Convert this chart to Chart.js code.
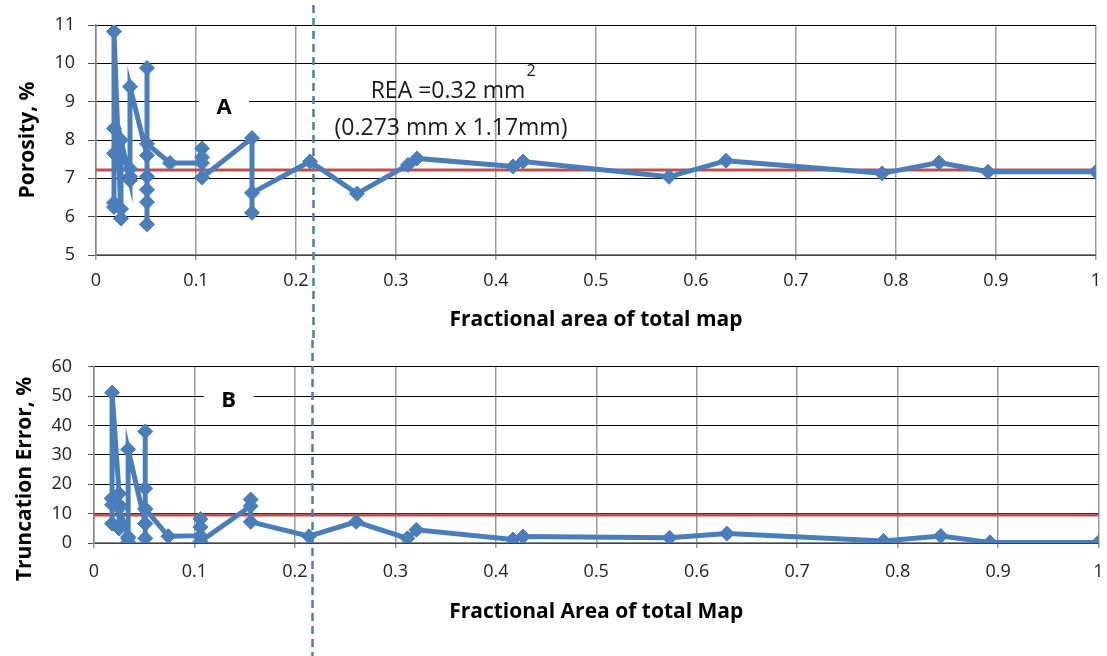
<!DOCTYPE html>
<html>
<head>
<meta charset="utf-8">
<title>Porosity and truncation error vs fractional area</title>
<script src="https://cdn.jsdelivr.net/npm/chart.js@4.4.1/dist/chart.umd.min.js"></script>
<style>
    html, body { margin: 0; padding: 0; background: #fff; }
    #wrap { position: relative; width: 1107px; height: 656px; overflow: hidden; }
    canvas { position: absolute; left: 0; }
    #porosityChart { top: 0; }
    #truncChart { top: 340px; }
</style>
</head>
<body>
<div id="wrap">
    <canvas id="porosityChart" width="1107" height="340"></canvas>
    <canvas id="truncChart" width="1107" height="316"></canvas>
</div>
<script>
// fractional area of the total map for each sub-sample (same order in both panels)
const fracArea = [
    1.000, 0.892, 0.843, 0.786, 0.630, 0.573, 0.427, 0.417, 0.321, 0.312,
    0.261, 0.214, 0.156, 0.156, 0.156, 0.106, 0.106, 0.106, 0.106, 0.074,
    0.051, 0.051, 0.051, 0.051, 0.051, 0.051, 0.051, 0.034, 0.034, 0.034,
    0.034, 0.025, 0.025, 0.025, 0.025, 0.018, 0.018, 0.018, 0.018, 0.018
];

// panel A: porosity, %
const porosity = [
    7.17, 7.17, 7.41, 7.13, 7.46, 7.04, 7.44, 7.31, 7.52, 7.35,
    6.60, 7.44, 6.62, 6.10, 8.05, 7.02, 7.78, 7.55, 7.40, 7.40,
    7.90, 5.80, 9.88, 7.05, 6.70, 6.38, 7.60, 9.39, 7.05, 7.25,
    6.95, 8.00, 7.50, 6.20, 5.95, 10.83, 8.30, 7.65, 6.36, 6.25
];

// panel B: truncation error, %
const truncError = [
    0.2, 0.2, 2.4, 0.7, 3.2, 1.8, 2.2, 1.2, 4.5, 1.6,
    7.2, 2.3, 7.2, 14.8, 12.6, 0.5, 8.2, 5.4, 2.5, 2.3,
    11.6, 18.6, 38.0, 1.6, 6.6, 11.6, 6.6, 31.9, 1.6, 0.3,
    2.1, 11.9, 4.9, 13.0, 16.8, 51.2, 15.3, 6.6, 13.0, 15.0
];

const porosityRef = 7.22;   // red reference line, panel A
const truncLimit = 9.5;     // red limit line, panel B
const reaFraction = 0.217;  // dashed REA marker

const BLUE = '#4A7EBB';
const RED = '#C0504D';
const FONT = "'Open Sans', sans-serif";

Chart.defaults.font.family = FONT;
Chart.defaults.color = '#222';
Chart.defaults.animation = false;

// extra drawing: letter tag, dashed REA line, REA note, side title
const extras = {
    id: 'extras',
    beforeDatasetsDraw(chart, args, o) {
        if (!o.tag) return;
        const { ctx } = chart;
        const px = chart.scales.x.getPixelForValue(o.tag.x);
        const py = chart.scales.y.getPixelForValue(o.tag.y);
        ctx.save();
        ctx.fillStyle = '#fff';
        ctx.fillRect(px - 25, py - 15, 50, 30);
        ctx.fillStyle = '#000';
        ctx.font = `bold 22px ${FONT}`;
        ctx.textAlign = 'center';
        ctx.textBaseline = 'middle';
        ctx.fillText(o.tag.text, px, py);
        ctx.restore();
    },
    afterDraw(chart, args, o) {
        const { ctx } = chart;
        const xs = chart.scales.x, ys = chart.scales.y;

        // dashed vertical REA line
        const lx = Math.round(xs.getPixelForValue(o.reaX)) + 0.5;
        ctx.save();
        ctx.strokeStyle = BLUE;
        ctx.lineWidth = 2.5;
        ctx.setLineDash([8, 5]);
        ctx.beginPath();
        ctx.moveTo(lx, o.lineTop);
        ctx.lineTo(lx, chart.height);
        ctx.stroke();
        ctx.restore();

        if (o.note) {
            ctx.save();
            ctx.fillStyle = '#1a1a1a';
            ctx.textAlign = 'center';
            ctx.textBaseline = 'middle';
            o.note.forEach(n => {
                ctx.font = `${n.size}px ${FONT}`;
                ctx.fillText(n.text, xs.getPixelForValue(n.x), ys.getPixelForValue(n.y));
            });
            ctx.restore();
        }

        if (o.sideTitle) {
            ctx.save();
            ctx.translate(o.sideTitle.x, o.sideTitle.y);
            ctx.rotate(-Math.PI / 2);
            ctx.fillStyle = '#000';
            ctx.font = `bold 21px ${FONT}`;
            ctx.textAlign = 'center';
            ctx.textBaseline = 'middle';
            ctx.fillText(o.sideTitle.text, 0, 0);
            ctx.restore();
        }
    }
};

function xAxis(title, boxHeight, tickPad, titlePad) {
    return {
        type: 'linear',
        min: 0,
        max: 1,
        afterFit: s => {
            s.height = boxHeight;
            s.paddingLeft = 0;
            s.paddingRight = 0;
        },
        ticks: {
            stepSize: 0.1,
            padding: tickPad,
            font: { size: 18 },
            callback: v => String(+v.toFixed(1))
        },
        grid: { color: '#9a9a9a', lineWidth: 1.5, tickLength: 5, tickColor: '#9a9a9a' },
        border: { color: '#868686', width: 1.5 },
        title: {
            display: true,
            text: title,
            color: '#000',
            font: { size: 21, weight: 'bold' },
            padding: { top: 0, bottom: titlePad }
        }
    };
}

function series(values, refValue) {
    return [
        {
            data: values.map((v, i) => ({ x: fracArea[i], y: v })),
            borderColor: BLUE,
            backgroundColor: BLUE,
            borderWidth: 5,
            pointStyle: 'rectRot',
            pointRadius: 7.5,
            pointBorderWidth: 1,
            pointBackgroundColor: BLUE,
            pointBorderColor: BLUE,
            order: 1
        },
        {
            data: [{ x: 0, y: refValue }, { x: 1, y: refValue }],
            borderColor: RED,
            borderWidth: 3,
            pointRadius: 0,
            order: 2
        }
    ];
}

new Chart(document.getElementById('porosityChart'), {
    type: 'line',
    data: { datasets: series(porosity, porosityRef) },
    options: {
        responsive: false,
        devicePixelRatio: 1,
        layout: { padding: { top: 25, right: 11, left: 0, bottom: 0 } },
        plugins: {
            legend: { display: false },
            tooltip: { enabled: false },
            extras: {
                reaX: reaFraction,
                lineTop: 5,
                tag: { text: 'A', x: 0.128, y: 8.83 },
                note: [
                    { text: 'REA =0.32 mm', x: 0.352, y: 9.26, size: 23 },
                    { text: '2', x: 0.435, y: 9.78, size: 16 },
                    { text: '(0.273 mm x 1.17mm)', x: 0.355, y: 8.31, size: 23 }
                ]
            }
        },
        scales: {
            x: xAxis('Fractional area of total map', 85, 10, 7),
            y: {
                min: 5,
                max: 11,
                afterFit: s => { s.width = 96; },
                ticks: { stepSize: 1, padding: 13, font: { size: 18 } },
                grid: { color: '#000', lineWidth: 1, tickLength: 8, tickColor: '#555' },
                border: { color: '#868686', width: 1.5 },
                title: {
                    display: true,
                    text: 'Porosity, %',
                    color: '#000',
                    font: { size: 21, weight: 'bold' },
                    padding: { top: 15, bottom: 0 }
                }
            }
        }
    },
    plugins: [extras]
});

new Chart(document.getElementById('truncChart'), {
    type: 'line',
    data: { datasets: series(truncError, truncLimit) },
    options: {
        responsive: false,
        devicePixelRatio: 1,
        layout: { padding: { top: 22, right: 7, left: 0, bottom: 0 } },
        plugins: {
            legend: { display: false },
            tooltip: { enabled: false },
            extras: {
                reaX: reaFraction,
                lineTop: 0,
                tag: { text: 'B', x: 0.134, y: 48.5 },
                sideTitle: { text: 'Truncation Error, %', x: 25, y: 139 }
            }
        },
        scales: {
            x: xAxis('Fractional Area of total Map', 113, 13, 31),
            y: {
                min: 0,
                max: 60,
                afterFit: s => { s.width = 94; },
                ticks: { stepSize: 10, padding: 16, font: { size: 18 } },
                grid: { color: '#000', lineWidth: 1, tickLength: 6, tickColor: '#555' },
                border: { color: '#868686', width: 1.5 },
                title: { display: false }
            }
        }
    },
    plugins: [extras]
});
</script>
</body>
</html>
